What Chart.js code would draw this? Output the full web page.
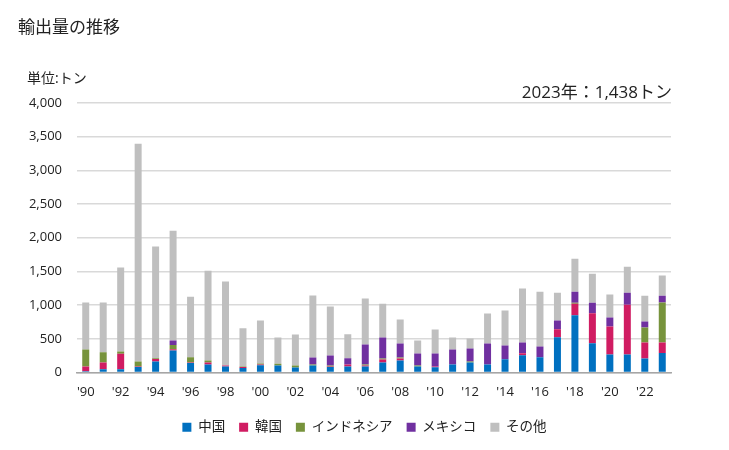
<!DOCTYPE html>
<html><head><meta charset="utf-8">
<script src="https://cdn.jsdelivr.net/npm/chart.js@4/dist/chart.umd.min.js"></script>
<style>
html,body{margin:0;padding:0;background:#fff;}
#wrap{position:relative;width:729px;height:450px;font-family:"Open Sans","Noto Sans CJK JP",sans-serif;color:#222;}
#title{position:absolute;left:18px;top:13px;font-size:17px;font-family:"Noto Sans CJK JP",sans-serif;}
#unit{position:absolute;left:27px;top:67px;font-size:14px;}
#note{position:absolute;right:57px;top:78px;font-size:17px;}
canvas{position:absolute;left:0;top:0;}
</style></head>
<body>
<div id="wrap">
<canvas id="c" width="729" height="450"></canvas>
<div id="title">輸出量の推移</div>
<div id="unit">単位:トン</div>
<div id="note">2023年：1,438トン</div>
</div>
<script>
const years = ["'90","'91","'92","'93","'94","'95","'96","'97","'98","'99","'00","'01","'02","'03","'04","'05","'06","'07","'08","'09","'10","'11","'12","'13","'14","'15","'16","'17","'18","'19","'20","'21","'22","'23"];
const seriesNames = ["中国","韓国","インドネシア","メキシコ","その他"];
const china     = [20,50,50,80,165,325,140,118,90,65,108,105,75,104,80,90,90,148,178,90,79,118,148,118,198,257,227,523,849,434,267,267,207,290];
const korea     = [70,100,230,10,35,20,10,30,15,15,10,0,0,0,10,30,15,45,30,0,10,0,0,0,0,30,0,119,173,445,414,740,237,155];
const indonesia = [250,150,30,75,10,65,75,30,0,10,15,25,30,14,15,0,15,14,15,15,0,0,15,0,0,0,0,0,15,0,0,0,223,595];
const mexico    = [0,0,0,0,0,65,0,0,0,0,0,0,0,104,148,90,297,312,208,177,192,223,193,312,202,158,158,128,163,158,134,178,89,100];
const other     = [700,740,1250,3230,1660,1630,900,1333,1245,565,637,390,460,920,726,356,681,503,355,193,356,178,148,444,519,800,815,415,489,430,341,385,385,298];
const colors = ["#0070C0","#D01C62","#77933C","#7030A0","#BFBFBF"];
const yTicks = [0,500,1000,1500,2000,2500,3000,3500,4000];

const fam = '"Open Sans","Noto Sans CJK JP"';
const allData = [china,korea,indonesia,mexico,other];
new Chart(document.getElementById('c'), {
  type:'bar',
  data:{
    labels:years,
    datasets: seriesNames.map((n,i)=>({label:n,data:allData[i],backgroundColor:colors[i],borderWidth:0,barPercentage:0.8,categoryPercentage:0.5}))
  },
  options:{
    responsive:false,
    animation:false,
    locale:'en-US',
    layout:{padding:{left:0,right:0,top:103,bottom:6}},
    plugins:{
      legend:{position:'bottom',labels:{boxWidth:9,boxHeight:9,padding:14,color:'#222',font:{size:13.5,family:fam}}},
      tooltip:{enabled:false},
      title:{display:false}
    },
    scales:{
      x:{stacked:true,
        grid:{display:false,drawTicks:false},
        border:{display:true,color:'#a6a6a6',width:1.5},
        ticks:{autoSkip:false,maxRotation:0,padding:12,color:'#222',font:{size:13,family:fam},
          callback:function(v,i){return i%2===0?this.getLabelForValue(v):'';}},
        afterFit:function(s){s.height=34;}
      },
      y:{stacked:true,min:0,max:4000,
        afterBuildTicks:function(s){s.ticks=yTicks.map(v=>({value:v}));},
        grid:{color:'#d9d9d9',lineWidth:1.5,drawTicks:false},
        border:{display:false},
        ticks:{padding:15,color:'#222',font:{size:13,family:fam},
          callback:v=>v.toLocaleString('en-US')},
        afterFit:function(s){s.width=77;}
      },
      yR:{position:'right',display:true,
        grid:{display:false,drawTicks:false},
        border:{display:false},
        ticks:{display:false},
        afterFit:function(s){s.width=58;}
      }
    }
  }
});
</script>
</body></html>
